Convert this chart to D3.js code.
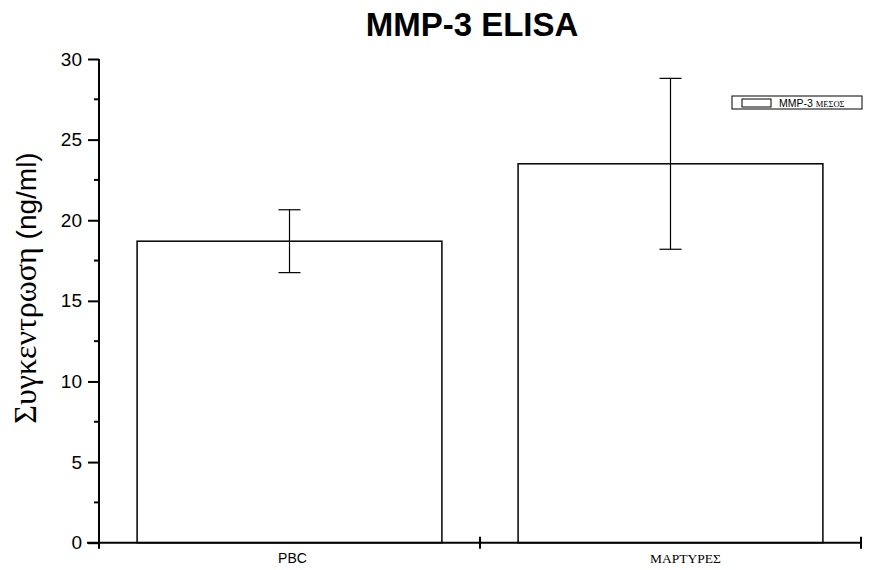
<!DOCTYPE html>
<html>
<head>
<meta charset="utf-8">
<script src="https://cdn.jsdelivr.net/npm/d3@7"></script>
<style>
  html, body { margin: 0; padding: 0; background: #fff; }
  svg { display: block; }
</style>
</head>
<body>
<svg id="chart" width="888" height="570"></svg>
<script>
const categories = ["PBC", "ΜΑΡΤΥΡΕΣ"];
const meanValues = [18.7, 23.5];
const errorValues = [1.95, 5.3];
const yTicks = [0, 5, 10, 15, 20, 25, 30];
const yMinorTicks = [2.5, 7.5, 12.5, 17.5, 22.5, 27.5];
const titleText = "MMP-3 ELISA";
const yTitleGreek = "Συγκεντρωση";
const yTitleUnit = " (ng/ml)";
const legendMain = "MMP-3 ";
const legendGreek = "ΜΕΣΟΣ";

(function () {
const svg = d3.select("#chart");
const pLeft = 99, pRight = 861, pTop = 59, pBottom = 542.7;

const x = d3.scaleBand().domain(categories).range([pLeft, pRight]).paddingInner(0.2).paddingOuter(0.1);
const y = d3.scaleLinear().domain([0, 30]).range([pBottom, pTop]);

// Title
svg.append("text")
  .attr("x", 472).attr("y", 36)
  .attr("text-anchor", "middle")
  .attr("font-family", "Liberation Sans, Arial, sans-serif")
  .attr("font-weight", "bold")
  .attr("font-size", 33)
  .text(titleText);

// Bars
const data = categories.map((c, i) => ({ c, v: meanValues[i], e: errorValues[i] }));
svg.selectAll("rect.bar").data(data).enter().append("rect")
  .attr("class", "bar")
  .attr("x", d => x(d.c))
  .attr("y", d => y(d.v))
  .attr("width", x.bandwidth())
  .attr("height", d => y(0) - y(d.v))
  .attr("fill", "#fff")
  .attr("stroke", "#000")
  .attr("stroke-width", 1.5);

// Error bars
const eb = svg.selectAll("g.err").data(data).enter().append("g").attr("class", "err")
  .attr("stroke", "#000").attr("stroke-width", 1.2);
const cx = d => x(d.c) + x.bandwidth() / 2;
eb.append("line")
  .attr("x1", cx).attr("x2", cx)
  .attr("y1", d => y(d.v + d.e)).attr("y2", d => y(d.v - d.e));
eb.append("line")
  .attr("x1", d => cx(d) - 11).attr("x2", d => cx(d) + 11)
  .attr("y1", d => y(d.v + d.e)).attr("y2", d => y(d.v + d.e));
eb.append("line")
  .attr("x1", d => cx(d) - 11).attr("x2", d => cx(d) + 11)
  .attr("y1", d => y(d.v - d.e)).attr("y2", d => y(d.v - d.e));

// Y axis
const yAxis = svg.append("g").attr("transform", `translate(${pLeft},0)`);
yAxis.call(d3.axisLeft(y).tickValues(yTicks).tickSize(11).tickPadding(6).tickFormat(d3.format("d")));
yAxis.select(".domain").attr("d", `M0,${pTop}V${pBottom}`).attr("stroke-width", 2);
yAxis.selectAll(".tick line").attr("stroke-width", 2);
yAxis.selectAll(".tick text")
  .attr("font-family", "Liberation Sans, Arial, sans-serif")
  .attr("font-size", 19).attr("fill", "#000");
yAxis.selectAll("line.minor").data(yMinorTicks).enter().append("line")
  .attr("class", "minor")
  .attr("x1", -5).attr("x2", 0)
  .attr("y1", d => y(d)).attr("y2", d => y(d))
  .attr("stroke", "#000").attr("stroke-width", 2);

// X axis
const xAxis = svg.append("g");
xAxis.append("line")
  .attr("x1", pLeft - 12).attr("x2", pRight)
  .attr("y1", pBottom).attr("y2", pBottom)
  .attr("stroke", "#000").attr("stroke-width", 2);
const boundaries = [pLeft, (x(categories[0]) + x.bandwidth() + x(categories[1])) / 2, pRight];
xAxis.selectAll("line.xt").data(boundaries).enter().append("line")
  .attr("class", "xt")
  .attr("x1", d => d).attr("x2", d => d)
  .attr("y1", pBottom - 6).attr("y2", pBottom + 6)
  .attr("stroke", "#000").attr("stroke-width", 2);

const labelFonts = ["Liberation Sans, Arial, sans-serif", "Liberation Serif, Times New Roman, serif"];
const labelSizes = [14, 13.5];
const labelDx = [3, 15];
xAxis.selectAll("text.xl").data(categories).enter().append("text")
  .attr("class", "xl")
  .attr("x", (d, i) => x(d) + x.bandwidth() / 2 + labelDx[i])
  .attr("y", 563)
  .attr("text-anchor", "middle")
  .attr("font-family", (d, i) => labelFonts[i])
  .attr("font-size", (d, i) => labelSizes[i])
  .text(d => d);

// Y title
const yt = svg.append("text")
  .attr("transform", "translate(36,288) rotate(-90)")
  .attr("text-anchor", "middle");
yt.append("tspan")
  .attr("font-family", "Liberation Serif, Times New Roman, serif")
  .attr("font-size", 32)
  .text(yTitleGreek);
yt.append("tspan")
  .attr("font-family", "Liberation Sans, Arial, sans-serif")
  .attr("font-size", 28)
  .text(yTitleUnit);

// Legend
const lg = svg.append("g");
lg.append("rect")
  .attr("x", 732).attr("y", 96).attr("width", 130).attr("height", 13)
  .attr("fill", "#fff").attr("stroke", "#000").attr("stroke-width", 1);
lg.append("rect")
  .attr("x", 742).attr("y", 99).attr("width", 29).attr("height", 8)
  .attr("fill", "#fff").attr("stroke", "#000").attr("stroke-width", 1);
const lt = lg.append("text").attr("x", 779).attr("y", 107);
lt.append("tspan")
  .attr("font-family", "Liberation Sans, Arial, sans-serif")
  .attr("font-size", 10.5)
  .text(legendMain);
lt.append("tspan")
  .attr("font-family", "Liberation Serif, Times New Roman, serif")
  .attr("font-size", 8.5)
  .text(legendGreek);
})();
</script>
</body>
</html>
